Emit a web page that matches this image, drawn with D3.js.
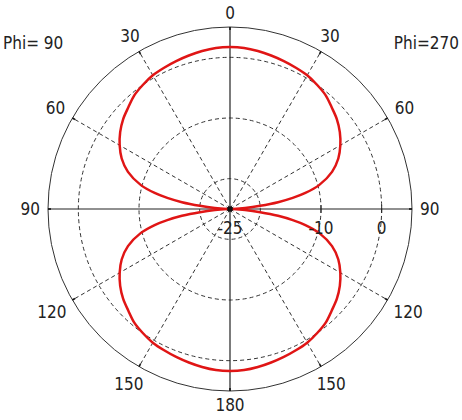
<!DOCTYPE html>
<html>
<head>
<meta charset="utf-8">
<script src="https://cdn.jsdelivr.net/npm/d3@7"></script>
<style>
  html, body { margin: 0; padding: 0; background: #fff; }
  svg { display: block; }
  text { font-family: "DejaVu Sans Condensed", "DejaVu Sans", sans-serif; font-size: 17px; fill: #222; }
</style>
</head>
<body>
<svg id="chart" width="462" height="420"></svg>
<script>
// ---- data ----
const patternAngles = [0,5,10,15,20,25,30,35,40,45,50,55,60,65,70,75,78,80,82,84,86,88,
  90,92,94,96,98,100,102,105,110,115,120,125,130,135,140,145,150,155,160,165,170,175,
  180,185,190,195,200,205,210,215,220,225,230,235,240,245,250,255,258,260,262,264,266,268,
  270,272,274,276,278,280,282,285,290,295,300,305,310,315,320,325,330,335,340,345,350,355];
const patternGain = [1.7,1.65,1.45,1.2,0.95,0.7,0.45,0.0,-0.5,-1.3,-2.0,-2.9,-4.0,-5.3,-7.1,-9.8,-12.3,-14.5,-17,-20,-22.5,-24.5,
  -25,-24.5,-22.5,-20,-17,-14.5,-12.3,-9.8,-7.1,-5.3,-4.0,-2.9,-2.0,-1.3,-0.5,0.0,0.45,0.7,0.95,1.2,1.45,1.65,
  1.7,1.65,1.45,1.2,0.95,0.7,0.45,0.0,-0.5,-1.3,-2.0,-2.9,-4.0,-5.3,-7.1,-9.8,-12.3,-14.5,-17,-20,-22.5,-24.5,
  -25,-24.5,-22.5,-20,-17,-14.5,-12.3,-9.8,-7.1,-5.3,-4.0,-2.9,-2.0,-1.3,-0.5,0.0,0.45,0.7,0.95,1.2,1.45,1.65];
const spokeAngles = [0,30,60,90,120,150,180,210,240,270,300,330];
const angleLabels = ["0","30","60","90","120","150","180","150","120","90","60","30"];
const ringLevels = [-20,-10,0];
const radialTickValues = [-25,-10,0];
const radialTickLabels = ["-25","-10","0"];
const phiLabels = ["Phi= 90","Phi=270"];
const rMin = -25, rMax = 5;

// ---- layout ----
const cx = 230, cy = 209, R = 182;
const svg = d3.select("#chart");
const r = d3.scaleLinear().domain([rMin, rMax]).range([0, R]);
const rad = d => d * Math.PI / 180;
const g = svg.append("g").attr("transform", `translate(${cx},${cy})`);

// rings (dashed)
g.selectAll("circle.ring").data(ringLevels).join("circle")
  .attr("class","ring").attr("r", d => r(d))
  .attr("fill","none").attr("stroke","#333").attr("stroke-width",1)
  .attr("stroke-dasharray","4,3");

// dashed spokes (non-axis)
g.selectAll("line.spoke").data(spokeAngles.filter(a => a % 90 !== 0)).join("line")
  .attr("class","spoke")
  .attr("x1",0).attr("y1",0)
  .attr("x2", a => R*Math.sin(rad(a))).attr("y2", a => -R*Math.cos(rad(a)))
  .attr("stroke","#333").attr("stroke-width",1).attr("stroke-dasharray","4,3");

// outer circle
g.append("circle").attr("r", R).attr("fill","none").attr("stroke","#333").attr("stroke-width",1);

// solid axes
g.selectAll("line.axis").data([0,90]).join("line")
  .attr("class","axis")
  .attr("x1", a => -R*Math.sin(rad(a))).attr("y1", a => R*Math.cos(rad(a)))
  .attr("x2", a => R*Math.sin(rad(a))).attr("y2", a => -R*Math.cos(rad(a)))
  .attr("stroke","#222").attr("stroke-width",1.2);

// ticks on outer circle
g.selectAll("line.otick").data(spokeAngles).join("line")
  .attr("class","otick")
  .attr("x1", a => (R-3)*Math.sin(rad(a))).attr("y1", a => -(R-3)*Math.cos(rad(a)))
  .attr("x2", a => R*Math.sin(rad(a))).attr("y2", a => -R*Math.cos(rad(a)))
  .attr("stroke","#111").attr("stroke-width",1.6);

// ticks on radial axis
g.selectAll("line.rtick").data(radialTickValues.filter(v => v > rMin)).join("line")
  .attr("class","rtick")
  .attr("x1", v => r(v)).attr("x2", v => r(v)).attr("y1",-4).attr("y2",4)
  .attr("stroke","#222").attr("stroke-width",1);

// pattern
const pts = patternAngles.map((a,i) => [rad(a), r(Math.max(rMin, patternGain[i]))]);
const line = d3.lineRadial().angle(d => d[0]).radius(d => d[1]).curve(d3.curveCatmullRomClosed.alpha(0.5));
g.append("path").attr("d", line(pts)).attr("fill","none")
  .attr("stroke","#e01515").attr("stroke-width",2.5).attr("stroke-linejoin","round");

// center dot
g.append("circle").attr("r",2.8).attr("fill","#111");

// angle labels
const LR = 190;
g.selectAll("text.alab").data(spokeAngles).join("text")
  .attr("class","alab")
  .attr("text-anchor","middle").attr("dominant-baseline","central")
  .text((a,i) => angleLabels[i])
  .each(function(a) {
    const bb = this.getBBox();
    const s = Math.sin(rad(a)), c = Math.cos(rad(a));
    const off = LR + (bb.width/2)*Math.abs(s) + 6*Math.abs(c);
    d3.select(this).attr("x", off*s).attr("y", -off*c);
  });

// radial labels
g.selectAll("text.rlab").data(radialTickValues).join("text")
  .attr("class","rlab")
  .attr("text-anchor","middle").attr("dominant-baseline","central")
  .attr("x", v => r(v)).attr("y", 19)
  .text((v,i) => radialTickLabels[i]);

// Phi labels
svg.append("text").attr("x",3).attr("y",49).text(phiLabels[0]);
svg.append("text").attr("x",459).attr("y",49).attr("text-anchor","end").text(phiLabels[1]);
</script>
</body>
</html>
